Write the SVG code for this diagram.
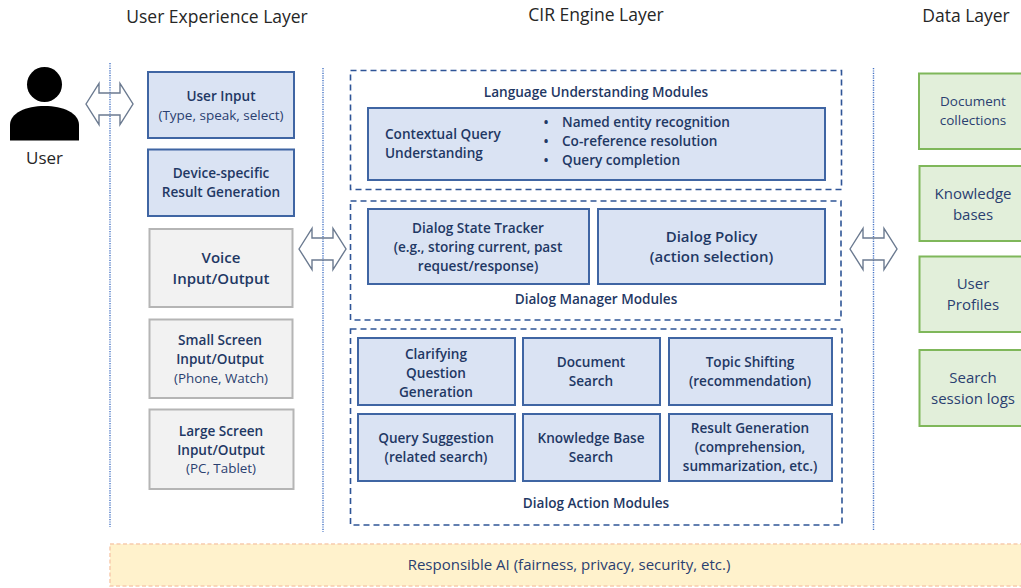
<svg xmlns="http://www.w3.org/2000/svg" width="1021" height="588" viewBox="0 0 1021 588">
<defs>
<style>
text{font-family:"Open Sans","Noto Sans","Liberation Sans",sans-serif;fill:#1f3864;text-anchor:middle}
.h{font-size:17.5px;fill:#262626}
.b{font-size:13.6px;font-weight:600}
.r{font-size:13.5px;fill:#2a4070}
.p{font-size:13.4px;fill:#2a4070}
.big{font-size:15px;font-weight:600}
.g{font-size:15px;fill:#2a4070}
.blue{fill:#dae3f3;stroke:#3f65a3;stroke-width:2}
.gray{fill:#f2f2f2;stroke:#b5b5b5;stroke-width:2}
.green{fill:#e2efda;stroke:#7fb75a;stroke-width:2}
.dash{fill:none;stroke:#2f5597;stroke-width:1.6;stroke-dasharray:6 4}
.dot{stroke:#4472c4;stroke-width:1.4;stroke-dasharray:1.2 1.2;fill:none}
.arrow{fill:none;stroke:#6b7a90;stroke-width:1.4}
</style>
<path id="da" d="M-23.500 0L-10.500-20.500V-11H10.500V-20.500L23.500 0L10.500 20.500V11H-10.500V20.500Z"/>
</defs>
<text class="h" x="217" y="23">User Experience Layer</text>
<text class="h" x="596" y="21">CIR Engine Layer</text>
<text class="h" x="966" y="22">Data Layer</text>
<g id="connectors">
<line class="dot" x1="110" y1="63" x2="110" y2="527"/>
<line class="dot" x1="323" y1="68" x2="323" y2="532"/>
<line class="dot" x1="873.500" y1="68" x2="873.500" y2="530"/>
<use href="#da" class="arrow" x="109.500" y="104"/>
<use href="#da" class="arrow" x="322.500" y="249"/>
<use href="#da" class="arrow" x="873.500" y="249"/>
</g>
<g id="user">
<circle cx="44.500" cy="84.500" r="17.500" fill="#000"/>
<path d="M10 140.500V125C10 113 26 106 44.500 106S79 113 79 125V140.500Z" fill="#000"/>
<text x="44.500" y="164" style="fill:#262626;font-size:17px">User</text>
</g>
<g id="user-input"><rect class="blue" x="148" y="72" width="146" height="66"/><text class="b" x="221" y="101">User Input</text><text class="r" x="221" y="120">(Type, speak, select)</text></g>
<g id="device-result"><rect class="blue" x="148" y="149.500" width="146" height="66.500"/><text class="b" x="221" y="178">Device-specific</text><text class="b" x="221" y="197">Result Generation</text></g>
<g id="voice"><rect class="gray" x="149.500" y="229" width="143" height="78"/><text class="big" x="221" y="263">Voice</text><text class="big" x="221" y="284">Input/Output</text></g>
<g id="small-screen"><rect class="gray" x="149.500" y="319.500" width="143" height="78.500"/><text class="b" x="220" y="345">Small Screen</text><text class="b" x="220" y="364">Input/Output</text><text class="p" x="221" y="383">(Phone, Watch)</text></g>
<g id="large-screen"><rect class="gray" x="149.500" y="409.500" width="144" height="79.500"/><text class="b" x="221" y="436">Large Screen</text><text class="b" x="221" y="455">Input/Output</text><text class="p" x="221" y="473">(PC, Tablet)</text></g>
<g id="language-understanding"><rect class="dash" x="350.500" y="70.500" width="491" height="119"/><text class="b" x="596" y="97">Language Understanding Modules</text>
<rect class="blue" x="368" y="108" width="457" height="72"/>
<text class="b" x="385" y="139" style="text-anchor:start">Contextual Query</text><text class="b" x="385" y="158" style="text-anchor:start">Understanding</text>
<text class="b" x="546" y="127">•</text><text class="b" x="546" y="146">•</text><text class="b" x="546" y="165">•</text>
<text class="b" x="562" y="127" style="text-anchor:start">Named entity recognition</text><text class="b" x="562" y="146" style="text-anchor:start">Co-reference resolution</text><text class="b" x="562" y="165" style="text-anchor:start">Query completion</text></g>
<g id="dialog-manager"><rect class="dash" x="350.500" y="201" width="490.500" height="119"/>
<rect class="blue" x="368" y="209" width="221" height="75"/><text class="b" x="478" y="233">Dialog State Tracker</text><text class="b" x="478" y="252">(e.g., storing current, past</text><text class="b" x="478" y="271">request/response)</text>
<rect class="blue" x="598" y="209" width="227" height="75"/><text class="big" x="711.500" y="242">Dialog Policy</text><text class="big" x="711.500" y="262">(action selection)</text>
<text class="b" x="596" y="304">Dialog Manager Modules</text></g>
<g id="dialog-action"><rect class="dash" x="350.500" y="329" width="491.500" height="196"/>
<rect class="blue" x="358" y="338" width="157" height="67"/><text class="b" x="436" y="359">Clarifying</text><text class="b" x="436" y="378">Question</text><text class="b" x="436" y="397">Generation</text>
<rect class="blue" x="523" y="338" width="137" height="67"/><text class="b" x="591" y="367">Document</text><text class="b" x="591" y="386">Search</text>
<rect class="blue" x="669" y="338" width="163" height="67"/><text class="b" x="750" y="367">Topic Shifting</text><text class="b" x="750" y="386">(recommendation)</text>
<rect class="blue" x="358" y="414" width="157" height="67"/><text class="b" x="436" y="443">Query Suggestion</text><text class="b" x="436" y="462">(related search)</text>
<rect class="blue" x="523" y="414" width="137" height="67"/><text class="b" x="591" y="443">Knowledge Base</text><text class="b" x="591" y="462">Search</text>
<rect class="blue" x="669" y="414" width="163" height="67"/><text class="b" x="750" y="433">Result Generation</text><text class="b" x="750" y="452">(comprehension,</text><text class="b" x="750" y="471">summarization, etc.)</text>
<text class="b" x="596" y="508">Dialog Action Modules</text></g>
<g id="document-collections"><rect class="green" x="919" y="73.500" width="110" height="75.500"/><text class="r" x="973" y="106">Document</text><text class="r" x="973" y="125">collections</text></g>
<g id="knowledge-bases"><rect class="green" x="919.500" y="166" width="110" height="75"/><text class="g" x="973" y="199">Knowledge</text><text class="g" x="973" y="220">bases</text></g>
<g id="user-profiles"><rect class="green" x="919.500" y="256.500" width="110" height="75.500"/><text class="g" x="973" y="289">User</text><text class="g" x="973" y="310">Profiles</text></g>
<g id="search-logs"><rect class="green" x="919.500" y="350" width="110" height="76"/><text class="g" x="973" y="383">Search</text><text class="g" x="973" y="404">session logs</text></g>
<g id="responsible-ai"><rect x="110" y="544" width="920" height="42" fill="#fff2cc" stroke="#f8cbad" stroke-width="1.500" stroke-dasharray="4 2.500"/><text x="569" y="570" class="g">Responsible AI (fairness, privacy, security, etc.)</text></g>
</svg>
